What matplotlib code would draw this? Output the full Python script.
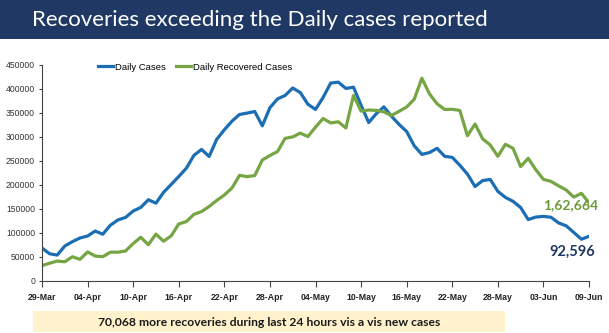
import matplotlib
matplotlib.use("Agg")
import matplotlib.pyplot as plt
import numpy as np
from matplotlib.patches import Rectangle

# ---- data ----
tick_labels = ["29-Mar", "04-Apr", "10-Apr", "16-Apr", "22-Apr", "28-Apr", "04-May",
               "10-May", "16-May", "22-May", "28-May", "03-Jun", "09-Jun"]
daily_cases = [68020, 56211, 53480, 72330, 81466, 89129, 93249, 103558, 96982, 115736,
               126789, 131968, 145384, 152879, 168912, 161736, 184372, 200739, 217353, 234692,
               261500, 273810, 259170, 295041, 314835, 332730, 346786, 349691, 352991, 323144,
               360960, 379257, 386452, 401993, 392488, 368147, 357229, 382315, 412262, 414188,
               401078, 403738, 366161, 329942, 348421, 362727, 343144, 326098, 311170, 281386,
               263533, 267334, 276110, 259551, 257299, 240842, 222315, 196427, 208921, 211298,
               186364, 173790, 165553, 152734, 127510, 132788, 134154, 132364, 120529, 114460,
               100636, 86498, 92596]
daily_recovered = [31500, 36500, 41000, 39500, 50000, 44500, 60000, 51500, 50000, 59500,
                   59500, 62000, 77500, 90600, 75100, 97200, 82300, 93500, 118300, 123400,
                   138400, 144200, 154800, 167500, 178800, 193300, 219800, 217100, 219300, 251800,
                   261200, 269500, 297000, 300000, 307900, 300700, 320300, 338400, 329100, 331500,
                   318600, 386400, 353800, 356100, 355300, 352200, 344800, 353300, 362400, 378700,
                   422400, 389900, 369100, 357300, 357600, 355100, 302500, 326900, 296000, 283100,
                   259500, 284600, 276300, 238000, 255300, 231500, 211500, 207100, 197900, 189200,
                   174400, 182300, 162664]
title = "Recoveries exceeding the Daily cases reported"
footer = "70,068 more recoveries during last 24 hours vis a vis new cases"

BLUE = "#1B6DB4"
GREEN = "#76A544"
NAVY = "#1F3864"

fig = plt.figure(figsize=(6.09, 3.33), dpi=100)
W, H = 609, 333

def fx(px):
    return px / W

def fy(py):
    return 1 - py / H

# header banner
fig.patches.append(Rectangle((0, fy(39)), 1, 39 / H, transform=fig.transFigure,
                             facecolor=NAVY, edgecolor="none", zorder=0))
fig.text(fx(260), fy(20), title, color="white", fontsize=16, family="Lato",
         ha="center", va="center")

# footer banner
fig.patches.append(Rectangle((fx(33), fy(332)), (505 - 33) / W, (332 - 311) / H,
                             transform=fig.transFigure, facecolor="#FFF2CC",
                             edgecolor="none", zorder=0))
fig.text(fx(269), fy(322), footer, color="#1a1a1a", fontsize=8.7, family="Lato",
         fontweight="bold", ha="center", va="center")

ax = fig.add_axes([fx(42), fy(280.7), (589 - 42) / W, (280.7 - 65) / H])
x = np.arange(len(daily_cases))
ax.plot(x, daily_cases, color=BLUE, lw=2.3, label="Daily Cases", solid_joinstyle="round")
ax.plot(x, daily_recovered, color=GREEN, lw=2.3, label="Daily Recovered Cases",
        solid_joinstyle="round")

ax.set_xlim(0, len(daily_cases) - 1)
ax.set_ylim(0, 450000)
ax.set_xticks(np.arange(0, len(daily_cases), 6))
ax.set_xticklabels(tick_labels, fontsize=6.3, fontweight="bold", family="Liberation Sans",
                   color="#222222")
ax.set_yticks(np.arange(0, 450001, 50000))
ax.set_yticklabels([str(v) for v in range(0, 450001, 50000)], fontsize=6.2,
                   family="Liberation Sans", color="#333333")
ax.tick_params(axis="x", length=4, width=0.8, direction="out", pad=5, color="#444444")
ax.tick_params(axis="y", length=2, width=0.8, direction="out", pad=3, color="#444444")
for s in ["top", "right"]:
    ax.spines[s].set_visible(False)
for s in ["left", "bottom"]:
    ax.spines[s].set_color("#444444")
    ax.spines[s].set_linewidth(0.8)

leg = ax.legend(loc="center", bbox_to_anchor=(0.28, 0.99), ncol=2, frameon=False,
                handlelength=1.6, columnspacing=1.0, handletextpad=0.2,
                prop={"family": "Liberation Sans", "size": 6.8})

ax.text(69.6, 158000, "1,62,664", color="#6B9A3A", fontsize=10, fontweight="bold",
        family="Lato", ha="center", va="center")
ax.text(69.8, 60000, "92,596", color="#1F3864", fontsize=10.5, fontweight="bold",
        family="Lato", ha="center", va="center")

fig.savefig("out.png", dpi=100)
